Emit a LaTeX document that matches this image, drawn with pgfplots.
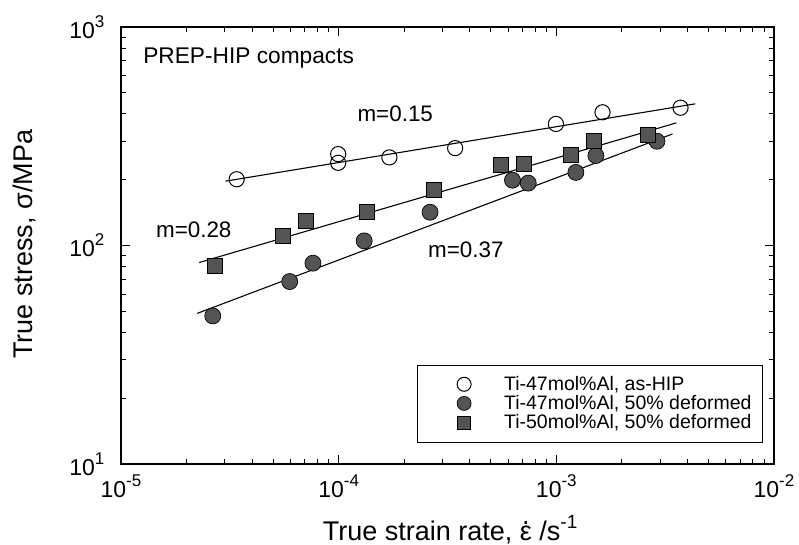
\documentclass[border=0pt]{standalone}
\usepackage{fontspec}
\setmainfont{Liberation Sans}
\usepackage{pgfplots}
\pgfplotsset{compat=1.18}

\newcommand{\tsup}[1]{\raisebox{11pt}{\fontsize{17}{17}\selectfont #1}}
\newcommand{\lsup}[1]{\raisebox{12.5pt}{\fontsize{19}{19}\selectfont #1}}
\newcommand{\edot}{{\ooalign{ε\cr\hidewidth\raisebox{0.6em}{.}\hidewidth\cr}}}
\definecolor{mkgray}{gray}{0.33}
\pgfplotsset{
  myleg/.style={legend image code/.code={%
    \path[draw=none, fill=none] (0pt,-4pt) rectangle (76pt,4pt);
    \draw[##1, mark size=#1] plot coordinates {(38pt,0pt)};}},
}

\begin{document}
\begin{tikzpicture}
\useasboundingbox (-121pt,-81pt) rectangle (678pt,464pt);
\begin{axis}[
    xmode=log, ymode=log,
    scale only axis,
    width=653pt, height=437pt,
    xmin=1e-5, xmax=1e-2,
    ymin=10, ymax=1000,
    xtick={1e-5,1e-4,1e-3,1e-2},
    ytick={10,100,1000},
    xticklabels={10\tsup{-5}, 10\tsup{-4}, 10\tsup{-3}, 10\tsup{-2}},
    yticklabels={10\tsup{1}, 10\tsup{2}, 10\tsup{3}},
    axis line style={line width=1.5pt},
    tick align=inside,
    major tick length=9pt,
    minor tick length=5pt,
    every tick/.style={black, line width=0.9pt},
    tick label style={font=\fontsize{23}{24}\selectfont},
    xticklabel style={yshift=-7pt},
    yticklabel style={xshift=-13pt},
    xlabel={True strain rate, \edot{} /s\lsup{-1}},
    ylabel={True stress, σ/MPa},
    label style={font=\fontsize{27}{28}\selectfont},
    xlabel style={at={(axis description cs:0.504,-0.176)}, anchor=base},
    ylabel style={at={(axis description cs:-0.1485,0.503)}, anchor=center, rotate=0},
    legend style={at={(0.983,0.05)}, anchor=south east, draw=black, line width=0.6pt,
        font=\fontsize{19.5}{20}\selectfont, inner xsep=9pt, inner ysep=11pt,
        row sep=2.5pt, nodes={inner ysep=0.5pt}},
    legend cell align=left,
]

\addplot[only marks, mark=o, mark size=7.6pt, mark options={line width=1pt, fill=white}, myleg=7pt]
  coordinates {
    (3.40e-5,201) (9.95e-5,262) (9.95e-5,239) (1.71e-4,253) (3.43e-4,279)
    (9.96e-4,360) (1.63e-3,407) (3.72e-3,427)
};
\addlegendentry{Ti-47mol\%Al, as-HIP}

\addplot[only marks, mark=*, mark size=8pt, mark options={draw=black, fill=mkgray, line width=0.7pt}, myleg=7pt]
  coordinates {
    (2.64e-5,47.6) (5.96e-5,68.4) (7.62e-5,83) (1.31e-4,105) (2.63e-4,142)
    (6.29e-4,199) (7.43e-4,193) (1.23e-3,216) (1.52e-3,258) (2.90e-3,300)
};
\addlegendentry{Ti-47mol\%Al, 50\% deformed}

\addplot[only marks, mark=square*, mark size=7.5pt, mark options={draw=black, fill=mkgray, line width=0.7pt}, myleg=6.5pt]
  coordinates {
    (2.69e-5,80.7) (5.53e-5,111) (7.10e-5,130) (1.35e-4,142) (2.73e-4,179)
    (5.58e-4,233) (7.10e-4,236) (1.16e-3,261) (1.49e-3,300) (2.63e-3,320)
};
\addlegendentry{Ti-50mol\%Al, 50\% deformed}

% power-law fits
\addplot[black, line width=1.1pt, forget plot] coordinates {(3.02e-5,197) (4.35e-3,445)};
\addplot[black, line width=1.1pt, forget plot] coordinates {(2.24e-5,48.9) (3.42e-3,324)};
\addplot[black, line width=1.1pt, forget plot] coordinates {(2.29e-5,83.6) (3.56e-3,364)};

\node[anchor=west, font=\fontsize{22.7}{24}\selectfont] at (axis cs:1.22e-5,721) {PREP-HIP compacts};
\node[font=\fontsize{22.4}{24}\selectfont] at (axis cs:1.82e-4,399) {m=0.15};
\node[font=\fontsize{22.4}{24}\selectfont] at (axis cs:2.16e-5,118) {m=0.28};
\node[font=\fontsize{22.4}{24}\selectfont] at (axis cs:3.84e-4,96) {m=0.37};

\end{axis}
\end{tikzpicture}
\end{document}
